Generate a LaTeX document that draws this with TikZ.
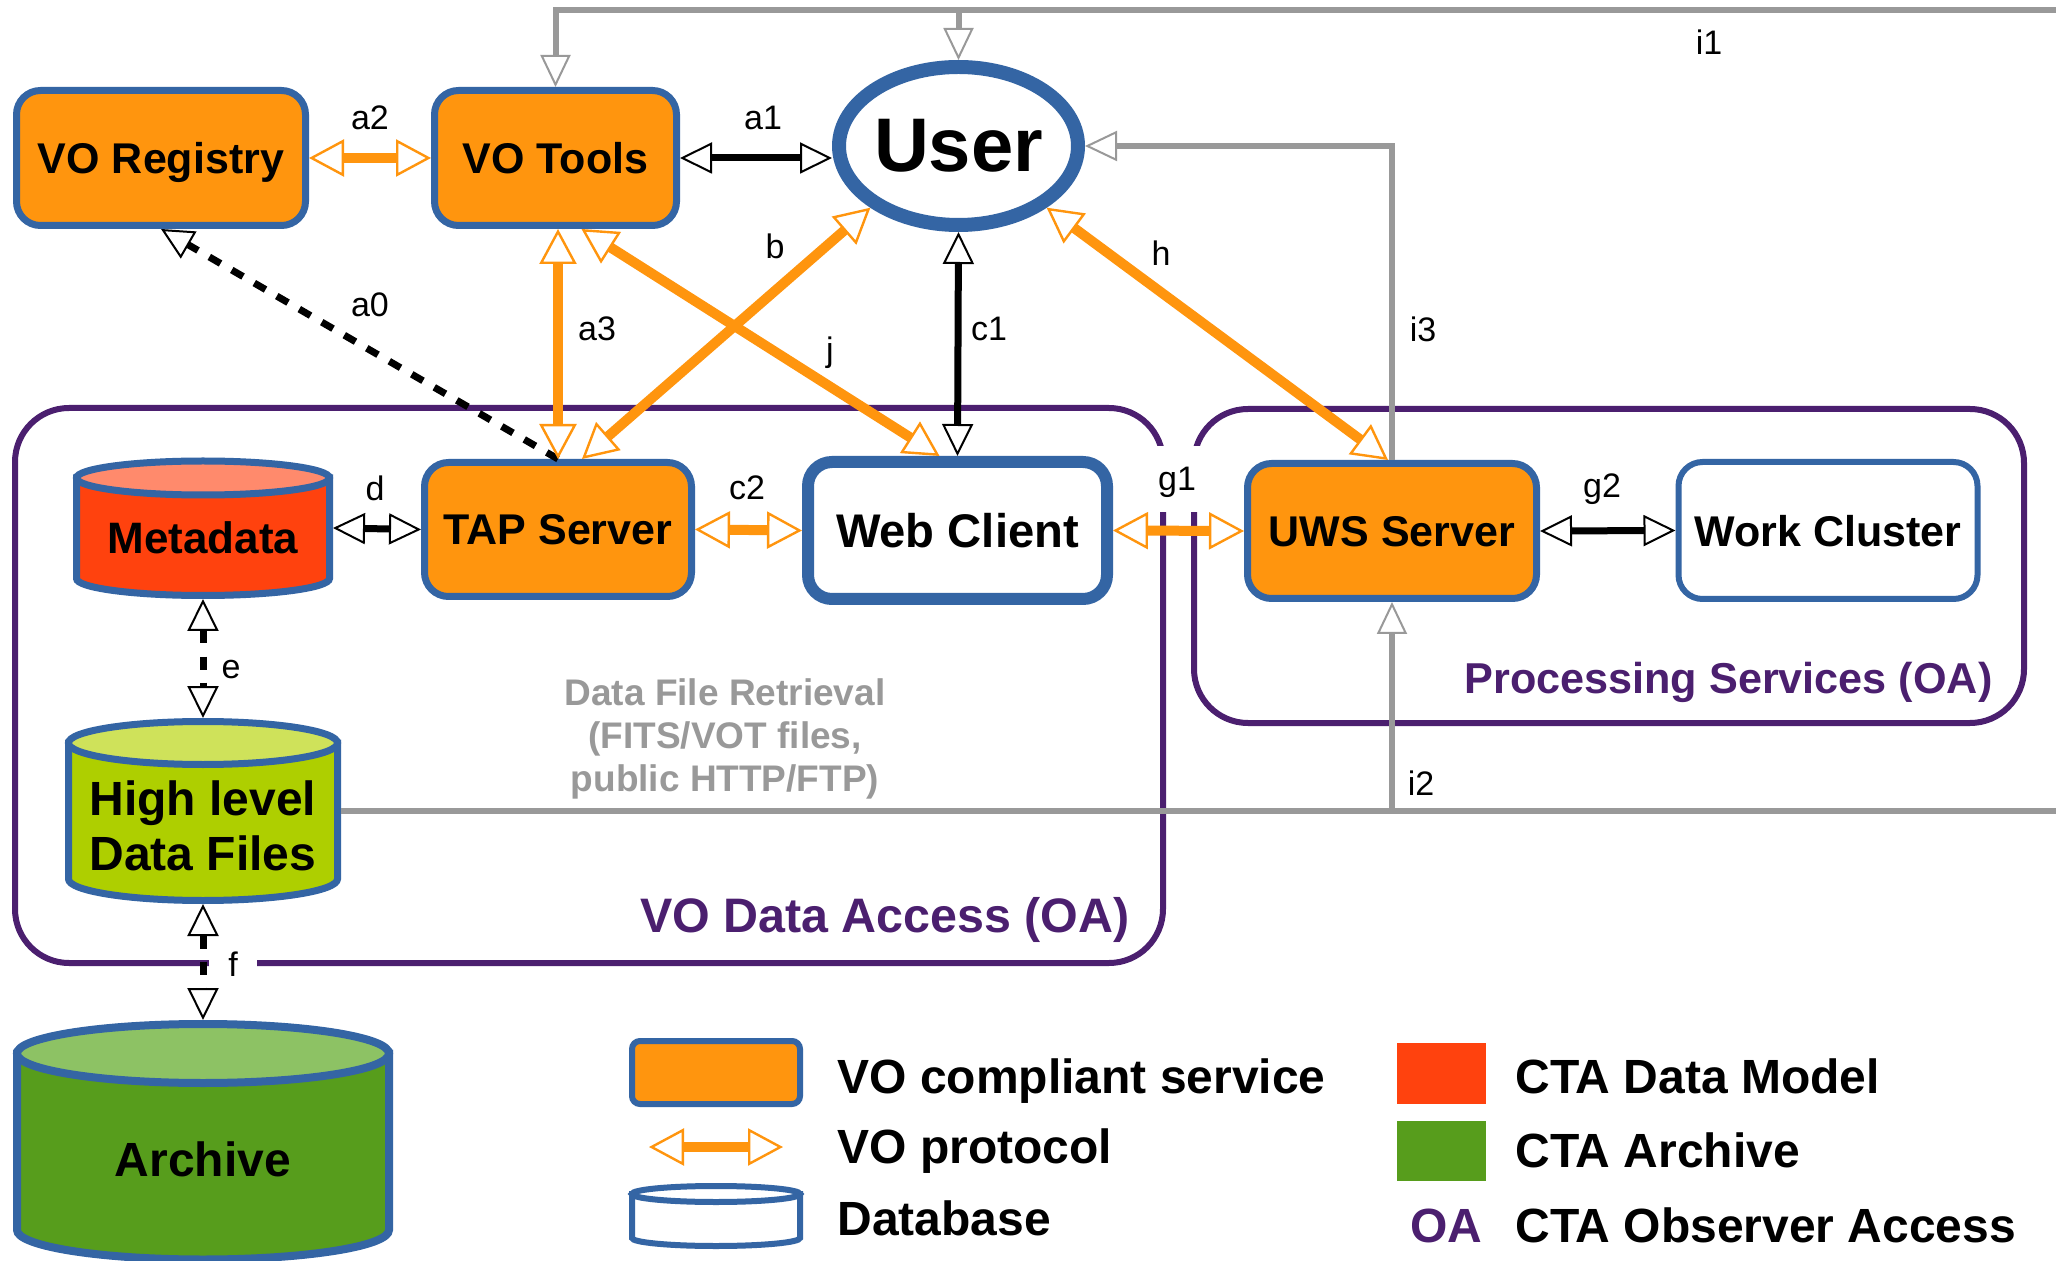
\documentclass[tikz,border=0pt]{standalone}
\usepackage{fontspec}
\setmainfont{Liberation Sans}
\usetikzlibrary{arrows.meta,calc,shapes.geometric}
\definecolor{vorange}{HTML}{FF950E}
\definecolor{vblue}{HTML}{3465A4}
\definecolor{vpurple}{HTML}{4B1F6F}
\definecolor{vgray}{HTML}{999999}
\definecolor{vred}{HTML}{FF420E}
\definecolor{vsalmon}{HTML}{FF8A6C}
\definecolor{vlime}{HTML}{AECF00}
\definecolor{vlimetop}{HTML}{CFE25A}
\definecolor{vgreen}{HTML}{579D1C}
\definecolor{vgreentop}{HTML}{8DC264}
\newcommand{\vfnode}{\fontsize{21.5}{26}\selectfont\bfseries}
\newcommand{\vflbl}{\fontsize{17}{20}\selectfont}
\newcommand{\vfleg}{\fontsize{24}{28}\selectfont\bfseries}
% #1 x1, #2 x2, #3 top ellipse centre y, #4 bottom ellipse centre y, #5 ry, #6 body, #7 top, #8 line width
\newcommand{\dbcyl}[8]{%
  \filldraw[draw=vblue, line width=#8, fill=#6] (#1,#3) -- (#1,#4)
    arc[start angle=180, end angle=0, x radius={(#2-#1)/2}, y radius=#5] -- (#2,#3) -- cycle;
  \filldraw[draw=vblue, line width=#8, fill=#7] ({(#1+#2)/2},#3) ellipse[x radius={(#2-#1)/2}, y radius=#5];
}
\tikzset{
  OT/.tip={Triangle[length=17.5pt,width=18.5pt,fill=white,line width=1.2pt]},
  BT/.tip={Triangle[length=16pt,width=15.5pt,fill=white,line width=1pt]},
  GT/.tip={Triangle[length=16pt,width=15pt,fill=white,line width=1pt]},
  svc/.style={draw=vblue, fill=vorange, line width=3.5pt, rounded corners=12pt, inner sep=0pt, text depth=0pt, font=\vfnode},
  plainbox/.style={draw=vblue, fill=white, line width=3pt, rounded corners=12pt, inner sep=0pt, text depth=0pt, font=\vfnode},
  grp/.style={draw=vpurple, line width=3pt, rounded corners=27pt, inner sep=0pt},
  grptxt/.style={text=vpurple, inner sep=0pt},
  lbl/.style={inner sep=0pt, font=\vflbl},
  orarrow/.style={draw=vorange, line width=5pt, OT-OT},
  blarrow/.style={draw=black, line width=3.5pt, BT-BT},
  dasharrow/.style={draw=black, line width=3.5pt, dash pattern=on 6.5pt off 6.5pt},
  grline/.style={draw=vgray, line width=3pt},
  hold/.style={inner sep=0pt, outer sep=0pt},
  legtxt/.style={inner sep=0pt, anchor=base west, font=\vfleg},
}
\begin{document}
\begin{tikzpicture}[x=0.5pt,y=-0.5pt]
\useasboundingbox[fill=white] (0,0) rectangle (2056,1261);

% group frames
\node[grp, minimum width=574pt, minimum height=277.5pt] (vobox) at (589,685.5) {};
\node[grp, minimum width=415pt, minimum height=157pt] (psbox) at (1609,566) {};
\node[grptxt, anchor=base east, font=\fontsize{24.2}{29}\selectfont\bfseries] (votxt) at (1130,932) {VO Data Access (OA)};
\node[grptxt, anchor=base east, font=\fontsize{21.6}{26}\selectfont\bfseries] (pstxt) at (1993,693) {Processing Services (OA)};
\fill[white] (1150,446) rectangle (1207,512);
\fill[white] (209,952) rectangle (257,975);

% databases
\dbcyl{76.5}{329.5}{478}{578.5}{17}{vred}{vsalmon}{3.5pt}
\dbcyl{68.5}{337.5}{743}{879}{21.5}{vlime}{vlimetop}{3.5pt}
\dbcyl{17}{389}{1053.5}{1230}{29.5}{vgreen}{vgreentop}{4pt}
\node[hold, minimum width=130pt, minimum height=71pt] (meta) at (203,528) {};
\node[hold, minimum width=138pt, minimum height=93pt] (hl) at (203,811) {};
\node[hold, minimum width=190pt, minimum height=120pt] (arch) at (203,1140) {};
\node[inner sep=0pt, font=\fontsize{22}{26}\selectfont\bfseries] (metatxt) at (203,538) {Metadata};
\node[inner sep=0pt, align=center, font=\fontsize{24}{27.5}\selectfont\bfseries] (hltxt) at (203,826) {High level\\Data Files};
\node[inner sep=0pt, font=\fontsize{24}{28}\selectfont\bfseries] (archtxt) at (203,1159) {Archive};

% boxes
\node[svc, minimum width=144.5pt, minimum height=67.5pt] (reg) at (161,158) {VO Registry};
\node[svc, minimum width=121pt, minimum height=67.5pt] (tools) at (555.5,158) {VO Tools};
\node[ellipse, draw=vblue, fill=white, line width=7pt, inner sep=0pt, minimum width=111.5pt, minimum height=79pt,
      font=\fontsize{38}{44}\selectfont\bfseries] (user) at (958.5,146) {User};
\node[svc, minimum width=133.5pt, minimum height=67pt] (tap) at (558,529.5) {TAP Server};
\node[plainbox, line width=6pt, minimum width=149.5pt, minimum height=68.5pt, font=\fontsize{23.6}{28}\selectfont\bfseries] (wc) at (957.5,530.5) {Web Client};
\node[svc, minimum width=144.5pt, minimum height=67.5pt] (uws) at (1392,531) {UWS Server};
\node[plainbox, minimum width=149.5pt, minimum height=68.5pt] (wk) at (1828,530.5) {Work Cluster};

% grey data lines
\coordinate (i1r) at (2056,10);
\coordinate (i2r) at (2056,811);
\draw[grline, -GT] (i1r) -| (tools.north);
\draw[grline, -GT] (user.north |- i1r) -- (user.north);
\draw[grline, -GT] (uws.north) |- (user.east);
\draw[grline] (hl.east) -- (i2r);
\draw[grline, -GT] (uws.south |- hl.east) -- (uws.south);

% connectors
\draw[dasharrow, -BT] (tap.north) -- (reg.south);
\draw[orarrow] (reg.east) -- (tools.west);
\draw[blarrow] (tools.east) -- (tools.east -| user.west);
\draw[orarrow] (tap.north) -- (tap.north |- tools.south);
\draw[orarrow] ($(tools.south)+(26,0)$) -- ($(wc.north)+(-18,0)$);
\draw[orarrow] ($(tap.north)+(24,0)$) -- (user.-145);
\draw[blarrow] (user.south) -- (wc.north);
\draw[orarrow] (user.-35) -- ($(uws.north)+(-4,0)$);
\draw[blarrow] (meta.east) -- (tap.west);
\draw[orarrow] (tap.east) -- (wc.west);
\draw[orarrow] (wc.east) -- (uws.west);
\draw[blarrow] (uws.east) -- (wk.west);
\draw[dasharrow, BT-BT] (meta.south) -- (hl.north);
\draw[dasharrow, BT-BT] (hl.south) -- (arch.north);

% labels
\node[lbl] (la2) at (370,118) {a2};
\node[lbl] (la1) at (763,118) {a1};
\node[lbl] (la0) at (370,305) {a0};
\node[lbl] (la3) at (597,329) {a3};
\node[lbl] (lb) at (775,246) {b};
\node[lbl] (lj) at (830,353) {j};
\node[lbl] (lc1) at (989,329) {c1};
\node[lbl] (lh) at (1161,253) {h};
\node[lbl] (li3) at (1423,329) {i3};
\node[lbl] (li1) at (1709,42) {i1};
\node[lbl] (ld) at (375,488) {d};
\node[lbl] (lc2) at (747,488) {c2};
\node[lbl] (lg1) at (1177,482) {g1};
\node[lbl] (lg2) at (1602,489) {g2};
\node[lbl] (le) at (231,670) {e};
\node[lbl, fill=white] (lf) at (233,964) {f};
\node[lbl] (li2) at (1421,783) {i2};
\node[inner sep=0pt, align=center, text=vgray, font=\fontsize{18.5}{21.5}\selectfont\bfseries] (retr) at (725,739)
  {Data File Retrieval\\(FITS/VOT files,\\public HTTP/FTP)};

% legend
\node[svc, rounded corners=4pt, line width=3pt, minimum width=84pt, minimum height=31.5pt] (lgbox) at (716,1072.5) {};
\coordinate (lgA) at (649,1147);
\coordinate (lgB) at (783,1147);
\draw[orarrow] (lgA) -- (lgB);
\dbcyl{632}{800}{1194}{1238}{8}{white}{white}{3pt}
\node[legtxt] (lt1) at (837,1093) {VO compliant service};
\node[legtxt] (lt2) at (837,1163) {VO protocol};
\node[legtxt] (lt3) at (837,1235) {Database};
\fill[vred] (1397,1043) rectangle (1486,1104);
\fill[vgreen] (1397,1121) rectangle (1486,1181);
\node[legtxt, text=vpurple] (lt7) at (1410,1242) {OA};
\node[legtxt] (lt4) at (1515,1093) {CTA Data Model};
\node[legtxt] (lt5) at (1515,1167) {CTA Archive};
\node[legtxt] (lt6) at (1515,1242) {CTA Observer Access};
\end{tikzpicture}
\end{document}
